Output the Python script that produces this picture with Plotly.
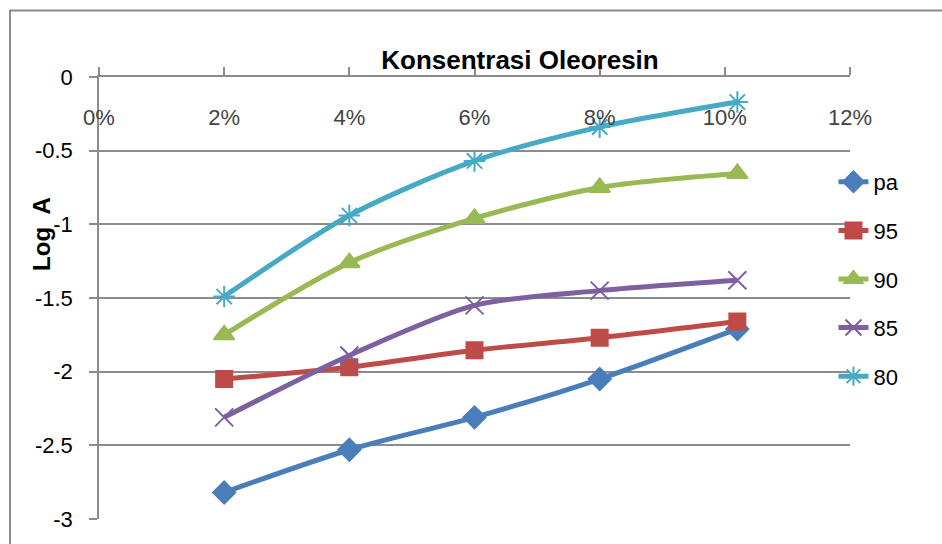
import plotly.graph_objects as go

# Konsentrasi oleoresin (fraction) and Log A for each series
konsentrasi = [0.02, 0.04, 0.06, 0.08, 0.102]
series_names = ["pa", "95", "90", "85", "80"]
log_pa = [-2.82, -2.53, -2.31, -2.05, -1.71]
log_95 = [-2.05, -1.97, -1.855, -1.77, -1.66]
log_90 = [-1.75, -1.26, -0.96, -0.75, -0.655]
log_85 = [-2.31, -1.89, -1.55, -1.45, -1.38]
log_80 = [-1.49, -0.94, -0.57, -0.34, -0.17]

x_ticks = [0, 0.02, 0.04, 0.06, 0.08, 0.10, 0.12]
x_tick_text = ["0%", "2%", "4%", "6%", "8%", "10%", "12%"]
y_ticks = [0, -0.5, -1, -1.5, -2, -2.5, -3]
y_tick_text = ["0", "-0.5", "-1", "-1.5", "-2", "-2.5", "-3"]

values = [log_pa, log_95, log_90, log_85, log_80]
colors = ["#4A7EBB", "#BE4B48", "#98B954", "#7D60A0", "#46AAC5"]
symbols = ["diamond", "square", "triangle-up", "x-thin-open", "asterisk-open"]
sizes = [17, 16, 18, 18, 18]

FONT = "Liberation Sans Narrow, Liberation Sans, Arial, sans-serif"
GRID = "#8C8C8C"

fig = go.Figure()
for name, ys, c, sym, sz in zip(series_names, values, colors, symbols, sizes):
    fig.add_trace(go.Scatter(
        x=konsentrasi, y=ys, name=name, legendgroup=name,
        mode="lines+markers",
        line=dict(color=c, width=5, shape="spline", smoothing=0.8),
        marker=dict(symbol=sym, size=sz, color=c,
                    line=dict(color=c, width=2)),
    ))

fig.update_layout(
    width=942, height=544,
    margin=dict(l=99, r=92, t=77, b=21),
    paper_bgcolor="white", plot_bgcolor="white",
    font=dict(family=FONT, size=22, color="black"),
    title=dict(text="<b>Konsentrasi Oleoresin</b>", x=520 / 942, xref="container",
               xanchor="center", y=1 - 60 / 544, yanchor="middle",
               font=dict(family=FONT, size=26, color="black")),
    showlegend=True,
    legend=dict(x=0.978, y=0.81, xanchor="left", yanchor="top",
                tracegroupgap=17, font=dict(family=FONT, size=22),
                bgcolor="rgba(0,0,0,0)"),
    xaxis=dict(range=[0, 0.12], side="top", tickvals=x_ticks, ticktext=x_tick_text,
               ticks="outside", ticklen=8, tickcolor=GRID, tickwidth=1.5,
               ticklabelposition="inside", ticklabelstandoff=34,
               ticklabeloverflow="allow",
               showline=True, linecolor=GRID, linewidth=1.5,
               showgrid=False, zeroline=False, fixedrange=True),
    yaxis=dict(range=[-3, 0], tickvals=y_ticks, ticktext=y_tick_text,
               ticks="outside", ticklen=8, tickcolor=GRID, tickwidth=1.5,
               ticklabelstandoff=12, ticklabeloverflow="allow",
               showline=True, linecolor=GRID, linewidth=1.5,
               showgrid=True, gridcolor=GRID, gridwidth=1.5,
               zeroline=False, fixedrange=True),
    annotations=[dict(text="<b>Log  A</b>", xref="paper", yref="paper",
                      x=(42 - 99) / 751, y=1 - (235 - 77) / 445,
                      xanchor="center", yanchor="middle",
                      textangle=-90, showarrow=False,
                      font=dict(family=FONT, size=24, color="black"))],
    shapes=[dict(type="rect", xref="paper", yref="paper",
                 x0=(10 - 99) / 751, x1=1.3, y0=-0.3, y1=1 + (77 - 10) / 445,
                 line=dict(color="#8C8C8C", width=2), layer="below")],
)

fig.write_html("out.html")
